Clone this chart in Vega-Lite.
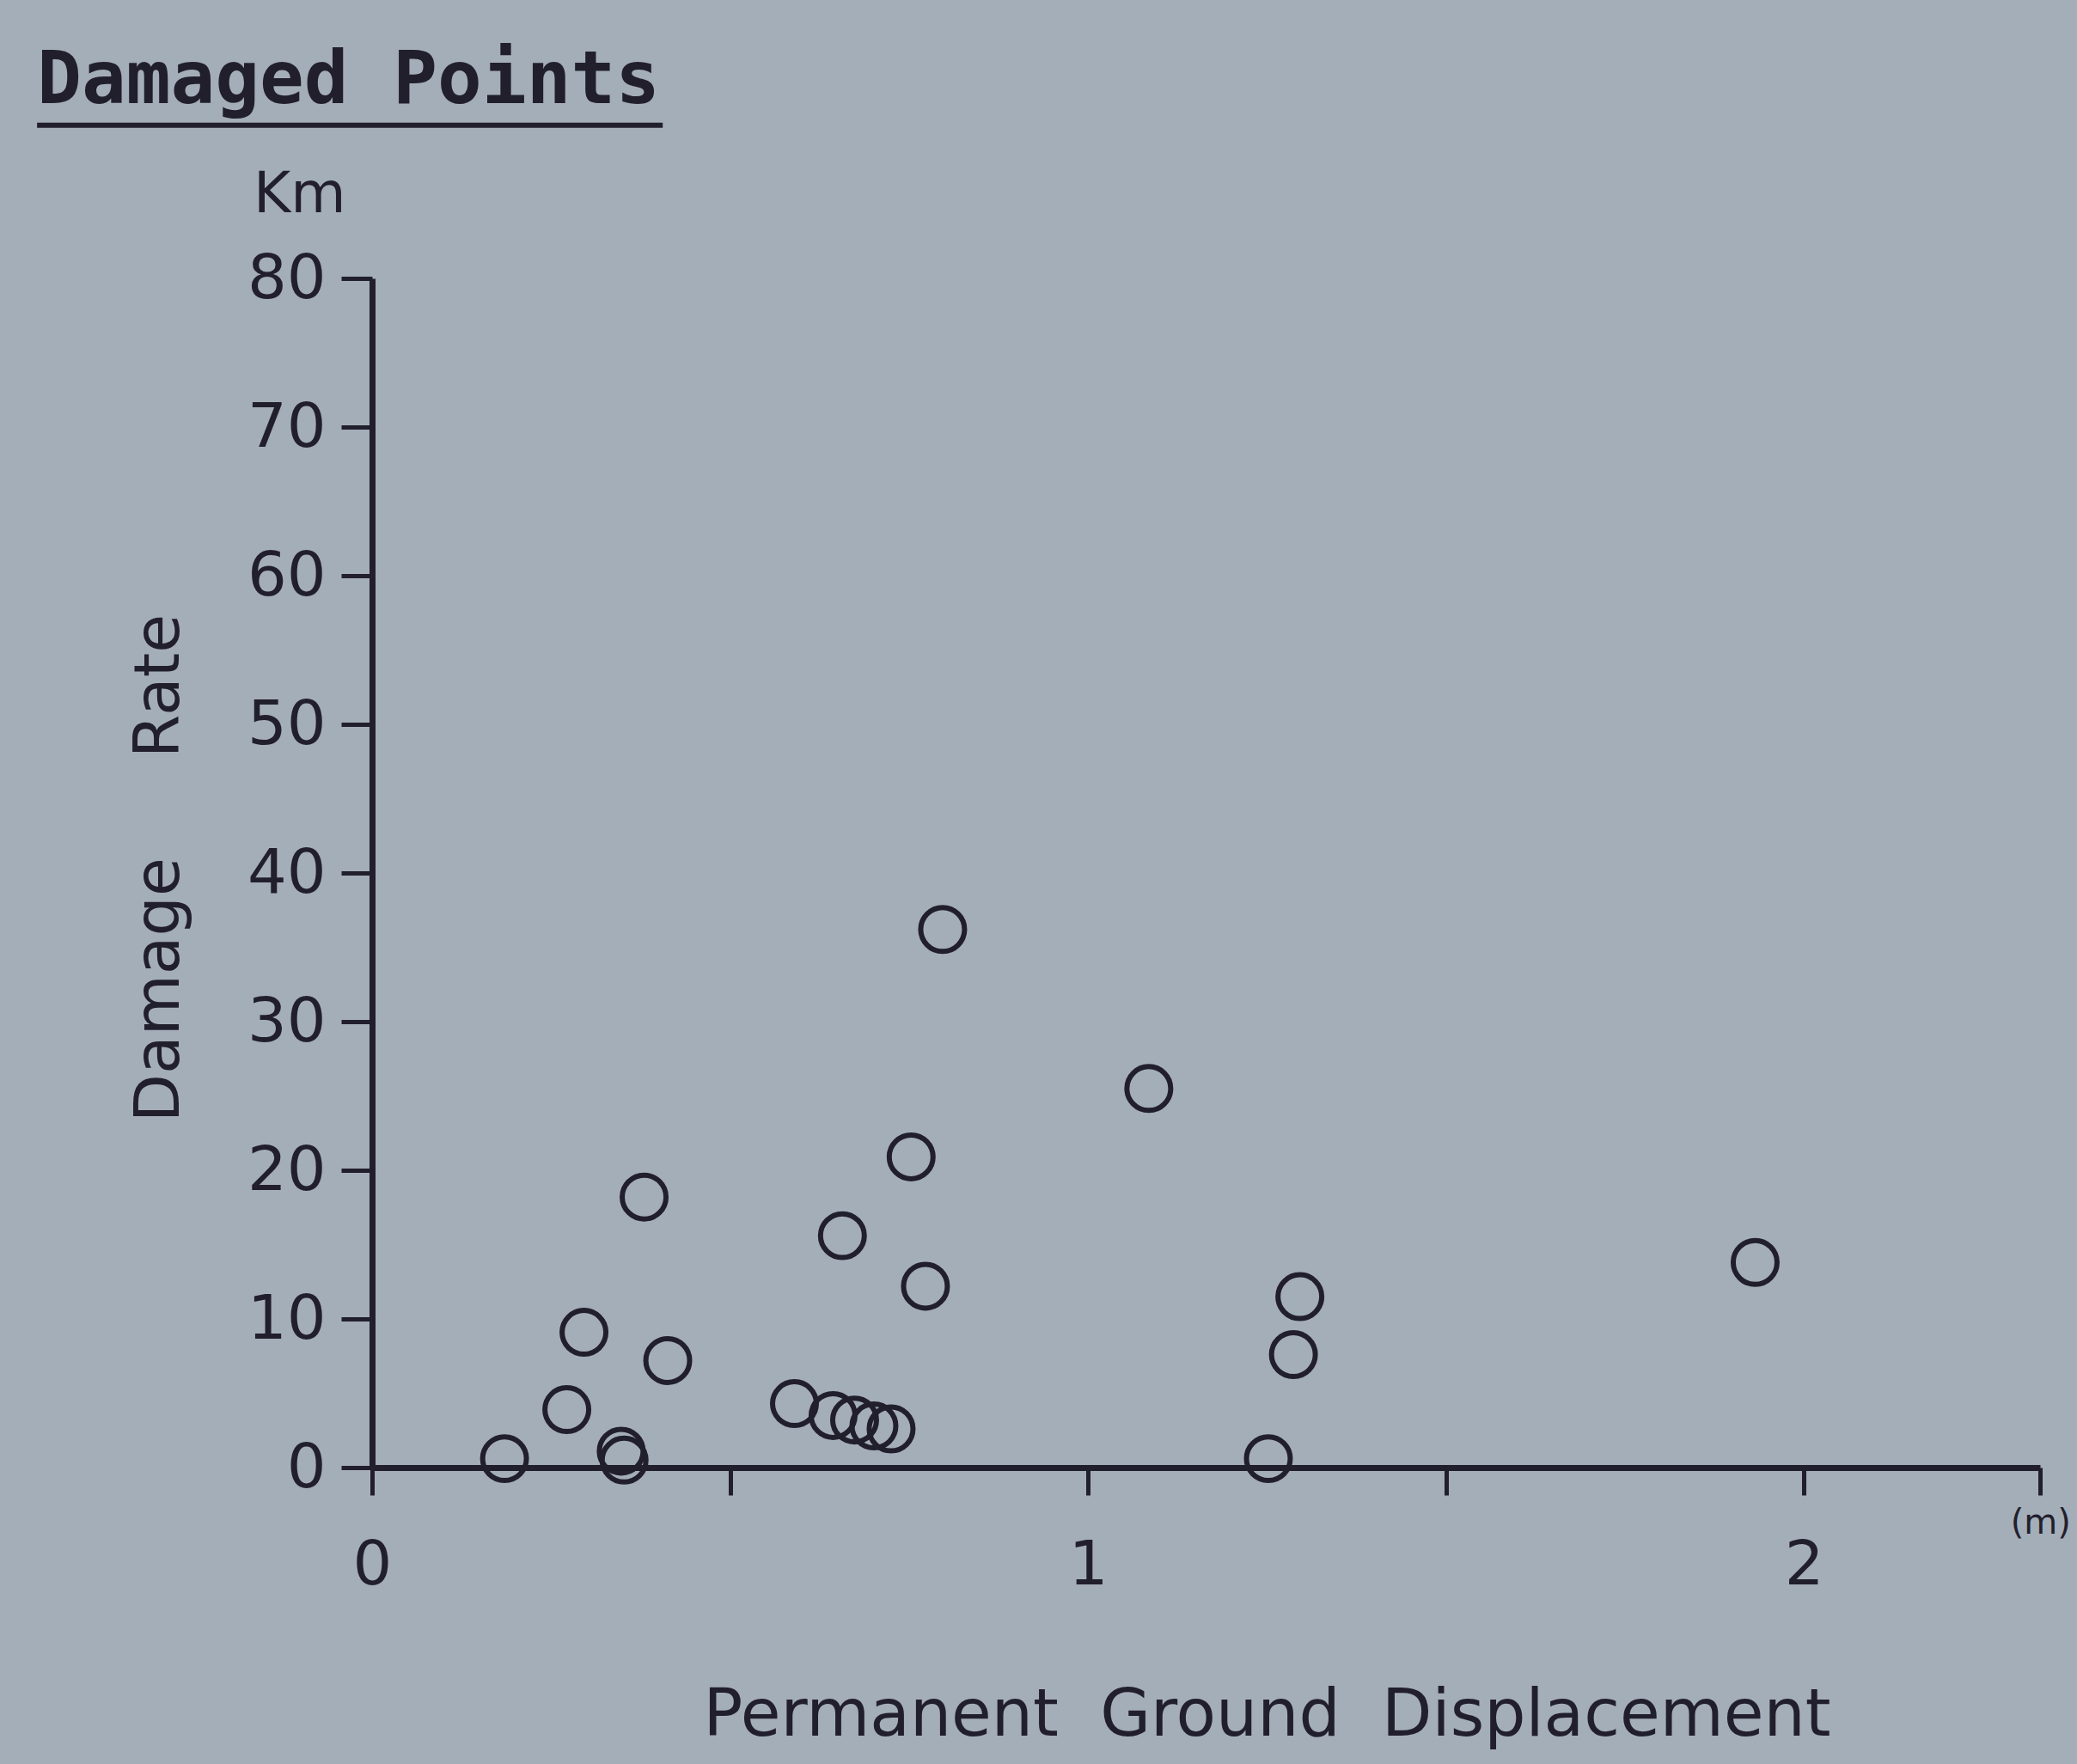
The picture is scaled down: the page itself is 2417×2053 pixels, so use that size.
{
  "$schema": "https://vega.github.io/schema/vega-lite/v6.json",
  "width": 1941,
  "height": 1384,
  "autosize": {"type": "none"},
  "padding": {"left": 433, "top": 324, "right": 43, "bottom": 345},
  "background": "#a4aeb8",
  "config": {
    "view": {"stroke": null},
    "axis": {
      "domainColor": "#221f2d",
      "tickColor": "#221f2d",
      "labelColor": "#221f2d",
      "titleColor": "#221f2d",
      "grid": false,
      "domainWidth": 7,
      "tickWidth": 5,
      "labelFlush": false,
      "labelFont": "DejaVu Sans",
      "labelFontWeight": "normal",
      "titleFont": "DejaVu Sans",
      "titleFontWeight": "normal"
    }
  },
  "data": {
    "values": [
      {"displacement": 0.185, "damage_rate": 0.6},
      {"displacement": 0.272, "damage_rate": 3.9},
      {"displacement": 0.296, "damage_rate": 9.1},
      {"displacement": 0.348, "damage_rate": 1.1},
      {"displacement": 0.352, "damage_rate": 0.5},
      {"displacement": 0.380, "damage_rate": 18.2},
      {"displacement": 0.413, "damage_rate": 7.2},
      {"displacement": 0.590, "damage_rate": 4.3},
      {"displacement": 0.644, "damage_rate": 3.5},
      {"displacement": 0.674, "damage_rate": 3.2},
      {"displacement": 0.701, "damage_rate": 2.8},
      {"displacement": 0.725, "damage_rate": 2.6},
      {"displacement": 0.657, "damage_rate": 15.6},
      {"displacement": 0.753, "damage_rate": 20.9},
      {"displacement": 0.773, "damage_rate": 12.2},
      {"displacement": 0.797, "damage_rate": 36.2},
      {"displacement": 1.085, "damage_rate": 25.5},
      {"displacement": 1.252, "damage_rate": 0.6},
      {"displacement": 1.287, "damage_rate": 7.6},
      {"displacement": 1.296, "damage_rate": 11.5},
      {"displacement": 1.932, "damage_rate": 13.8}
    ]
  },
  "layer": [
    {
      "mark": {"type": "point", "shape": "circle", "filled": false, "size": 2600, "strokeWidth": 6, "color": "#221f2d", "opacity": 1},
      "encoding": {
        "x": {
          "field": "displacement",
          "type": "quantitative",
          "scale": {"domain": [0, 2.33], "nice": false, "zero": false},
          "axis": {
            "values": [0, 0.5, 1, 1.5, 2, 2.33],
            "labelExpr": "datum.value === 0 ? '0' : datum.value === 1 ? '1' : datum.value === 2 ? '2' : ''",
            "tickSize": 32,
            "labelFontSize": 72,
            "labelPadding": 46,
            "title": "Permanent\u00a0 Ground\u00a0 Displacement",
            "titleFontSize": 76,
            "titleX": 1041,
            "titleY": 288,
            "titleAlign": "center",
            "titleBaseline": "middle",
            "titleAngle": 0
          }
        },
        "y": {
          "field": "damage_rate",
          "type": "quantitative",
          "scale": {"domain": [0, 80], "nice": false, "zero": false},
          "axis": {
            "values": [0, 10, 20, 30, 40, 50, 60, 70, 80],
            "tickSize": 36,
            "labelFontSize": 72,
            "labelPadding": 18,
            "title": "Damage\u00a0\u00a0\u00a0\u00a0 Rate",
            "titleFontSize": 73,
            "titleX": -248,
            "titleY": 686,
            "titleAlign": "center",
            "titleBaseline": "middle",
            "titleAngle": -90
          }
        }
      }
    },
    {
      "data": {"values": [{"label": "Damaged Points", "px": -0.468, "py": 91.8}]},
      "mark": {"type": "text", "font": "DejaVu Sans Mono", "fontWeight": "bold", "fontSize": 86, "align": "left", "baseline": "alphabetic", "color": "#221f2d"},
      "encoding": {
        "x": {"field": "px", "type": "quantitative"},
        "y": {"field": "py", "type": "quantitative"},
        "text": {"field": "label"}
      }
    },
    {
      "data": {"values": [{"x1": -0.468, "x2": 0.406, "yy": 90.3}]},
      "mark": {"type": "rule", "strokeWidth": 6, "color": "#221f2d"},
      "encoding": {
        "x": {"field": "x1", "type": "quantitative"},
        "x2": {"field": "x2"},
        "y": {"field": "yy", "type": "quantitative"}
      }
    },
    {
      "data": {"values": [{"label": "Km", "px": -0.101, "py": 84.45}]},
      "mark": {"type": "text", "font": "DejaVu Sans", "fontSize": 66, "align": "center", "baseline": "alphabetic", "color": "#221f2d"},
      "encoding": {
        "x": {"field": "px", "type": "quantitative"},
        "y": {"field": "py", "type": "quantitative"},
        "text": {"field": "label"}
      }
    },
    {
      "data": {"values": [{"label": "(m)", "px": 2.373, "py": -4.45}]},
      "mark": {"type": "text", "font": "DejaVu Sans", "fontSize": 40, "align": "right", "baseline": "alphabetic", "color": "#221f2d"},
      "encoding": {
        "x": {"field": "px", "type": "quantitative"},
        "y": {"field": "py", "type": "quantitative"},
        "text": {"field": "label"}
      }
    }
  ]
}
